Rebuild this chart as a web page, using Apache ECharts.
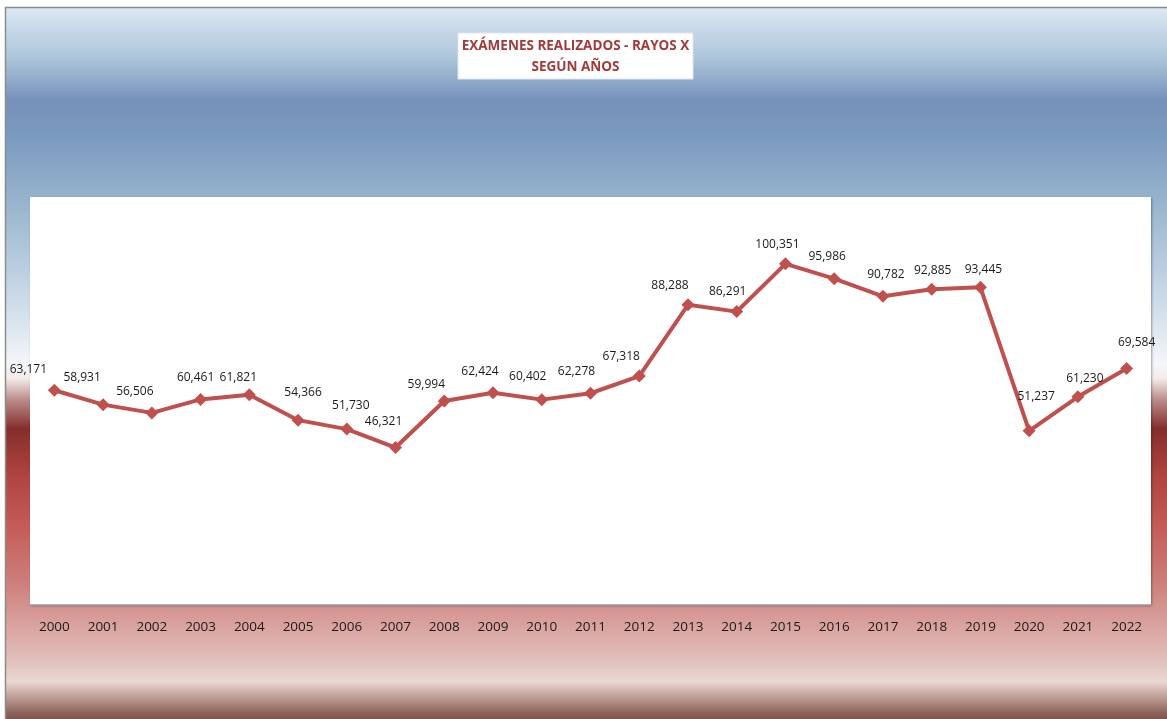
<!DOCTYPE html>
<html>
<head>
<meta charset="utf-8">
<script src="https://cdn.jsdelivr.net/npm/echarts@6/dist/echarts.min.js"></script>
<style>
html,body{margin:0;padding:0;background:#fff;}
#chart{width:1167px;height:719px;}
</style>
</head>
<body>
<div id="chart"></div>
<script>
const years = ['2000','2001','2002','2003','2004','2005','2006','2007','2008','2009','2010','2011','2012','2013','2014','2015','2016','2017','2018','2019','2020','2021','2022'];
const examenes = [63171,58931,56506,60461,61821,54366,51730,46321,59994,62424,60402,62278,67318,88288,86291,100351,95986,90782,92885,93445,51237,61230,69584];
const titleLines = ['EXÁMENES REALIZADOS - RAYOS X','SEGÚN AÑOS'];
// manual label nudges (style only)
const labelNudges = [[-26,-3],[-21,-10],[-17,-4],[-5,-4],[-11,0],[5,-10],[4,-6],[-12,-8],[-18,1],[-13,-4],[-14,-6],[-14,-4],[-18,-2],[-18,-2],[-9,-3],[-8,-2],[-7,-5],[3,-4],[1,-1],[3,0],[7,-17],[7,-1],[10,-8]];

const chart = echarts.init(document.getElementById('chart'), null, {renderer:'canvas'});
const fmt = v => v.toLocaleString('en-US');

const bg = new echarts.graphic.LinearGradient(0,0,0,1,[
  {offset:0.00,color:'#dde9f3'},
  {offset:0.074,color:'#aac3d9'},
  {offset:0.13,color:'#7691ba'},
  {offset:0.18,color:'#7b9abf'},
  {offset:0.27,color:'#97b4cd'},
  {offset:0.40,color:'#c9d9e7'},
  {offset:0.495,color:'#f4f6f9'},
  {offset:0.515,color:'#f3eceb'},
  {offset:0.545,color:'#b98c8a'},
  {offset:0.585,color:'#852e2c'},
  {offset:0.65,color:'#b0443f'},
  {offset:0.72,color:'#c45b57'},
  {offset:0.80,color:'#cd807c'},
  {offset:0.85,color:'#d89e9b'},
  {offset:0.905,color:'#e1bfba'},
  {offset:0.935,color:'#ead8d2'},
  {offset:0.955,color:'#c2a39c'},
  {offset:0.98,color:'#8a6058'},
  {offset:1.00,color:'#6a3b35'}
]);

const titleFont = 'bold 13.5px "Open Sans", "Liberation Sans", sans-serif';
const labelFamily = '"Open Sans", "Liberation Sans", sans-serif';

chart.setOption({
  animation:false,
  backgroundColor:'#ffffff',
  graphic:[
    {type:'rect', z:-10, shape:{x:5.5,y:7.5,width:1170,height:720}, style:{fill:bg, stroke:'#8c8c8c', lineWidth:1.5}},
    {type:'rect', z:-5, shape:{x:30,y:197,width:1121,height:408}, style:{fill:'#ffffff', shadowColor:'rgba(0,0,0,0.35)', shadowBlur:2, shadowOffsetX:1, shadowOffsetY:1}},
    {type:'rect', z:5, shape:{x:458,y:33,width:235,height:46}, style:{fill:'#ffffff', stroke:'#dfe6ee', lineWidth:1}},
    {type:'text', z:6, style:{x:575.5,y:46,text:titleLines[0],align:'center',verticalAlign:'middle',fill:'#a33a3a',font:titleFont}},
    {type:'text', z:6, style:{x:575.5,y:67,text:titleLines[1],align:'center',verticalAlign:'middle',fill:'#a33a3a',font:titleFont}}
  ],
  grid:{left:30,right:16,top:197,bottom:114,containLabel:false},
  xAxis:{
    type:'category',
    data:years,
    boundaryGap:true,
    axisLine:{show:true,lineStyle:{color:'#9a9a9a',width:1.5}},
    axisTick:{show:false},
    axisLabel:{color:'#1a1a1a',fontSize:13.5,fontFamily:labelFamily,margin:15}
  },
  yAxis:{
    type:'value',min:0,max:120000,interval:20000,
    show:false,
    splitLine:{show:false}
  },
  series:[{
    type:'line',
    data:examenes.map((v,i)=>({value:v,label:{offset:labelNudges[i]}})),
    symbol:'diamond',
    symbolSize:13,
    lineStyle:{color:'#c0504d',width:4},
    itemStyle:{color:'#c0504d'},
    label:{show:true,position:'top',distance:5,color:'#1a1a1a',fontSize:12,fontFamily:labelFamily,formatter:p=>fmt(p.value)}
  }]
});
</script>
</body>
</html>
